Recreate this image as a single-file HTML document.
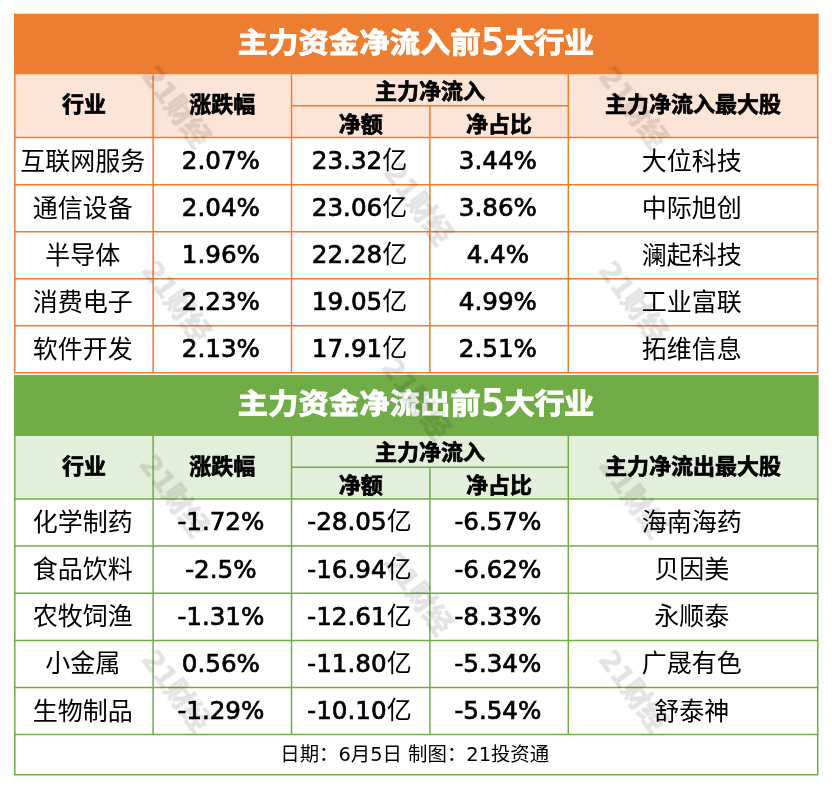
<!DOCTYPE html>
<html lang="zh-CN"><head><meta charset="utf-8"><title>主力资金净流入</title>
<style>
html,body{margin:0;padding:0;background:#fff;}
body{width:832px;height:788px;position:relative;overflow:hidden;font-family:"DejaVu Sans","Noto Sans CJK SC",sans-serif;color:#000;}
svg{position:absolute;left:0;top:0;}
.c{position:absolute;display:flex;align-items:center;justify-content:center;white-space:nowrap;box-sizing:border-box;}
.t{color:#fff;font-weight:700;font-size:30.1px;-webkit-text-stroke:1px #fff;line-height:40px;}
.t b{display:inline-block;transform:scaleY(0.95);font-weight:700;}
.t i{display:inline-block;font-style:normal;font-weight:400;font-size:36.3px;line-height:40px;-webkit-text-stroke:1.8px #fff;margin:0 0.4px;position:relative;top:1.2px;}
.h{font-weight:700;font-size:22px;-webkit-text-stroke:0.7px #000;}
.h span{display:inline-block;transform:scaleY(0.96);}
.d{font-size:25px;}
.n{font-size:24.6px;-webkit-text-stroke:0.7px #000;}
.n i{font-style:normal;font-size:25px;-webkit-text-stroke:0;line-height:0;}
.f{font-size:19.4px;}
.w{position:absolute;font-size:28px;line-height:30px;letter-spacing:-0.6px;font-weight:900;color:#000;-webkit-text-stroke:0.4px #000;opacity:0.105;filter:blur(0.4px);transform:translate(-50%,-50%) rotate(53.5deg);white-space:nowrap;font-family:"DejaVu Sans","Noto Sans CJK SC",sans-serif;}
</style></head><body>

<svg width="832" height="788" viewBox="0 0 832 788"><rect x="14.05" y="13.70" width="804.40" height="60.60" fill="#ED7D31"/><rect x="14.8" y="74.30" width="802.90" height="63.30" fill="#FCE4D6"/><line x1="14.80" y1="73.55" x2="817.70" y2="73.55" stroke="#ED7D31" stroke-width="1.5"/><line x1="291.50" y1="105.80" x2="568.30" y2="105.80" stroke="#ED7D31" stroke-width="1.5"/><line x1="14.05" y1="137.60" x2="818.45" y2="137.60" stroke="#ED7D31" stroke-width="1.5"/><line x1="14.05" y1="184.64" x2="818.45" y2="184.64" stroke="#ED7D31" stroke-width="1.5"/><line x1="14.05" y1="231.68" x2="818.45" y2="231.68" stroke="#ED7D31" stroke-width="1.5"/><line x1="14.05" y1="278.72" x2="818.45" y2="278.72" stroke="#ED7D31" stroke-width="1.5"/><line x1="14.05" y1="325.76" x2="818.45" y2="325.76" stroke="#ED7D31" stroke-width="1.5"/><line x1="14.05" y1="372.80" x2="818.45" y2="372.80" stroke="#ED7D31" stroke-width="1.5"/><line x1="14.80" y1="13.70" x2="14.80" y2="372.80" stroke="#ED7D31" stroke-width="1.5"/><line x1="153.10" y1="74.30" x2="153.10" y2="372.80" stroke="#ED7D31" stroke-width="1.5"/><line x1="291.50" y1="74.30" x2="291.50" y2="372.80" stroke="#ED7D31" stroke-width="1.5"/><line x1="429.90" y1="105.80" x2="429.90" y2="372.80" stroke="#ED7D31" stroke-width="1.5"/><line x1="568.30" y1="74.30" x2="568.30" y2="372.80" stroke="#ED7D31" stroke-width="1.5"/><line x1="817.70" y1="13.70" x2="817.70" y2="372.80" stroke="#ED7D31" stroke-width="1.5"/><rect x="14.05" y="374.90" width="804.40" height="61.00" fill="#70AD47"/><rect x="14.8" y="435.90" width="802.90" height="63.10" fill="#E2EFDA"/><line x1="14.80" y1="435.15" x2="817.70" y2="435.15" stroke="#70AD47" stroke-width="1.5"/><line x1="291.50" y1="467.30" x2="568.30" y2="467.30" stroke="#70AD47" stroke-width="1.5"/><line x1="14.05" y1="499.00" x2="818.45" y2="499.00" stroke="#70AD47" stroke-width="1.5"/><line x1="14.05" y1="546.10" x2="818.45" y2="546.10" stroke="#70AD47" stroke-width="1.5"/><line x1="14.05" y1="593.20" x2="818.45" y2="593.20" stroke="#70AD47" stroke-width="1.5"/><line x1="14.05" y1="640.40" x2="818.45" y2="640.40" stroke="#70AD47" stroke-width="1.5"/><line x1="14.05" y1="687.50" x2="818.45" y2="687.50" stroke="#70AD47" stroke-width="1.5"/><line x1="14.05" y1="734.60" x2="818.45" y2="734.60" stroke="#70AD47" stroke-width="1.5"/><line x1="14.80" y1="374.90" x2="14.80" y2="734.60" stroke="#70AD47" stroke-width="1.5"/><line x1="153.10" y1="435.90" x2="153.10" y2="734.60" stroke="#70AD47" stroke-width="1.5"/><line x1="291.50" y1="435.90" x2="291.50" y2="734.60" stroke="#70AD47" stroke-width="1.5"/><line x1="429.90" y1="467.30" x2="429.90" y2="734.60" stroke="#70AD47" stroke-width="1.5"/><line x1="568.30" y1="435.90" x2="568.30" y2="734.60" stroke="#70AD47" stroke-width="1.5"/><line x1="817.70" y1="374.90" x2="817.70" y2="734.60" stroke="#70AD47" stroke-width="1.5"/><path d="M14.8 734.6 V774.65 H817.7 V734.6" fill="none" stroke="#70AD47" stroke-width="1.5"/></svg>
<div class="c t" style="left:14.3px;top:11.4px;width:802.9px;height:60.6px"><span><b style="letter-spacing:0.3px">主力资金净流入前</b><i>5</i><b style="letter-spacing:-0.5px">大行业</b></span></div>
<div class="c h" style="left:14.8px;top:70.4px;width:138.3px;height:63.3px"><span>行业</span></div>
<div class="c h" style="left:153.1px;top:70.4px;width:138.4px;height:63.3px"><span>涨跌幅</span></div>
<div class="c h" style="left:291.5px;top:73.1px;width:276.8px;height:31.5px"><span>主力净流入</span></div>
<div class="c h" style="left:291.5px;top:105.9px;width:138.4px;height:31.8px"><span>净额</span></div>
<div class="c h" style="left:429.9px;top:105.9px;width:138.4px;height:31.8px"><span>净占比</span></div>
<div class="c h" style="left:568.3px;top:70.4px;width:249.4px;height:63.3px"><span>主力净流入最大股</span></div>
<div class="c d" style="left:13.6px;top:135.1px;width:138.3px;height:47.0px"><span>互联网服务</span></div>
<div class="c n" style="left:151.7px;top:137.0px;width:138.4px;height:47.0px"><span>2.07%</span></div>
<div class="c n" style="left:290.3px;top:137.0px;width:138.4px;height:47.0px"><span>23.32<i>亿</i></span></div>
<div class="c n" style="left:428.7px;top:137.0px;width:138.4px;height:47.0px"><span>3.44%</span></div>
<div class="c d" style="left:567.1px;top:135.1px;width:249.4px;height:47.0px"><span>大位科技</span></div>
<div class="c d" style="left:13.6px;top:182.1px;width:138.3px;height:47.0px"><span>通信设备</span></div>
<div class="c n" style="left:151.7px;top:184.0px;width:138.4px;height:47.0px"><span>2.04%</span></div>
<div class="c n" style="left:290.3px;top:184.0px;width:138.4px;height:47.0px"><span>23.06<i>亿</i></span></div>
<div class="c n" style="left:428.7px;top:184.0px;width:138.4px;height:47.0px"><span>3.86%</span></div>
<div class="c d" style="left:567.1px;top:182.1px;width:249.4px;height:47.0px"><span>中际旭创</span></div>
<div class="c d" style="left:13.6px;top:229.2px;width:138.3px;height:47.0px"><span>半导体</span></div>
<div class="c n" style="left:151.7px;top:231.1px;width:138.4px;height:47.0px"><span>1.96%</span></div>
<div class="c n" style="left:290.3px;top:231.1px;width:138.4px;height:47.0px"><span>22.28<i>亿</i></span></div>
<div class="c n" style="left:428.7px;top:231.1px;width:138.4px;height:47.0px"><span>4.4%</span></div>
<div class="c d" style="left:567.1px;top:229.2px;width:249.4px;height:47.0px"><span>澜起科技</span></div>
<div class="c d" style="left:13.6px;top:276.2px;width:138.3px;height:47.0px"><span>消费电子</span></div>
<div class="c n" style="left:151.7px;top:278.1px;width:138.4px;height:47.0px"><span>2.23%</span></div>
<div class="c n" style="left:290.3px;top:278.1px;width:138.4px;height:47.0px"><span>19.05<i>亿</i></span></div>
<div class="c n" style="left:428.7px;top:278.1px;width:138.4px;height:47.0px"><span>4.99%</span></div>
<div class="c d" style="left:567.1px;top:276.2px;width:249.4px;height:47.0px"><span>工业富联</span></div>
<div class="c d" style="left:13.6px;top:323.3px;width:138.3px;height:47.0px"><span>软件开发</span></div>
<div class="c n" style="left:151.7px;top:325.2px;width:138.4px;height:47.0px"><span>2.13%</span></div>
<div class="c n" style="left:290.3px;top:325.2px;width:138.4px;height:47.0px"><span>17.91<i>亿</i></span></div>
<div class="c n" style="left:428.7px;top:325.2px;width:138.4px;height:47.0px"><span>2.51%</span></div>
<div class="c d" style="left:567.1px;top:323.3px;width:249.4px;height:47.0px"><span>拓维信息</span></div>
<div class="c t" style="left:14.3px;top:372.6px;width:802.9px;height:61.0px"><span><b style="letter-spacing:0.3px">主力资金净流出前</b><i>5</i><b style="letter-spacing:-0.5px">大行业</b></span></div>
<div class="c h" style="left:14.8px;top:432.0px;width:138.3px;height:63.1px"><span>行业</span></div>
<div class="c h" style="left:153.1px;top:432.0px;width:138.4px;height:63.1px"><span>涨跌幅</span></div>
<div class="c h" style="left:291.5px;top:434.7px;width:276.8px;height:31.4px"><span>主力净流入</span></div>
<div class="c h" style="left:291.5px;top:467.4px;width:138.4px;height:31.7px"><span>净额</span></div>
<div class="c h" style="left:429.9px;top:467.4px;width:138.4px;height:31.7px"><span>净占比</span></div>
<div class="c h" style="left:568.3px;top:432.0px;width:249.4px;height:63.1px"><span>主力净流出最大股</span></div>
<div class="c d" style="left:13.6px;top:496.5px;width:138.3px;height:47.1px"><span>化学制药</span></div>
<div class="c n" style="left:151.7px;top:498.4px;width:138.4px;height:47.1px"><span>-1.72%</span></div>
<div class="c n" style="left:290.3px;top:498.4px;width:138.4px;height:47.1px"><span>-28.05<i>亿</i></span></div>
<div class="c n" style="left:428.7px;top:498.4px;width:138.4px;height:47.1px"><span>-6.57%</span></div>
<div class="c d" style="left:567.1px;top:496.5px;width:249.4px;height:47.1px"><span>海南海药</span></div>
<div class="c d" style="left:13.6px;top:543.6px;width:138.3px;height:47.1px"><span>食品饮料</span></div>
<div class="c n" style="left:151.7px;top:545.5px;width:138.4px;height:47.1px"><span>-2.5%</span></div>
<div class="c n" style="left:290.3px;top:545.5px;width:138.4px;height:47.1px"><span>-16.94<i>亿</i></span></div>
<div class="c n" style="left:428.7px;top:545.5px;width:138.4px;height:47.1px"><span>-6.62%</span></div>
<div class="c d" style="left:567.1px;top:543.6px;width:249.4px;height:47.1px"><span>贝因美</span></div>
<div class="c d" style="left:13.6px;top:590.7px;width:138.3px;height:47.2px"><span>农牧饲渔</span></div>
<div class="c n" style="left:151.7px;top:592.6px;width:138.4px;height:47.2px"><span>-1.31%</span></div>
<div class="c n" style="left:290.3px;top:592.6px;width:138.4px;height:47.2px"><span>-12.61<i>亿</i></span></div>
<div class="c n" style="left:428.7px;top:592.6px;width:138.4px;height:47.2px"><span>-8.33%</span></div>
<div class="c d" style="left:567.1px;top:590.7px;width:249.4px;height:47.2px"><span>永顺泰</span></div>
<div class="c d" style="left:13.6px;top:637.9px;width:138.3px;height:47.1px"><span>小金属</span></div>
<div class="c n" style="left:151.7px;top:639.8px;width:138.4px;height:47.1px"><span>0.56%</span></div>
<div class="c n" style="left:290.3px;top:639.8px;width:138.4px;height:47.1px"><span>-11.80<i>亿</i></span></div>
<div class="c n" style="left:428.7px;top:639.8px;width:138.4px;height:47.1px"><span>-5.34%</span></div>
<div class="c d" style="left:567.1px;top:637.9px;width:249.4px;height:47.1px"><span>广晟有色</span></div>
<div class="c d" style="left:13.6px;top:685.0px;width:138.3px;height:47.1px"><span>生物制品</span></div>
<div class="c n" style="left:151.7px;top:686.9px;width:138.4px;height:47.1px"><span>-1.29%</span></div>
<div class="c n" style="left:290.3px;top:686.9px;width:138.4px;height:47.1px"><span>-10.10<i>亿</i></span></div>
<div class="c n" style="left:428.7px;top:686.9px;width:138.4px;height:47.1px"><span>-5.54%</span></div>
<div class="c d" style="left:567.1px;top:685.0px;width:249.4px;height:47.1px"><span>舒泰神</span></div>
<div class="c f" style="left:13.3px;top:732.6px;width:802.9px;height:40.0px"><span>日期：6月5日 制图：21投资通</span></div>
<div class="w" style="left:175.4px;top:107.4px">21财经</div>
<div class="w" style="left:175.4px;top:301.8px">21财经</div>
<div class="w" style="left:173.4px;top:496.2px">21财经</div>
<div class="w" style="left:175.4px;top:690.6px">21财经</div>
<div class="w" style="left:417.3px;top:204.3px">21财经</div>
<div class="w" style="left:415px;top:399px">21财经</div>
<div class="w" style="left:417.3px;top:593.5px">21财经</div>
<div class="w" style="left:632px;top:108px">21财经</div>
<div class="w" style="left:632px;top:302px">21财经</div>
<div class="w" style="left:632px;top:496.7px">21财经</div>
<div class="w" style="left:632px;top:691px">21财经</div>
</body></html>
